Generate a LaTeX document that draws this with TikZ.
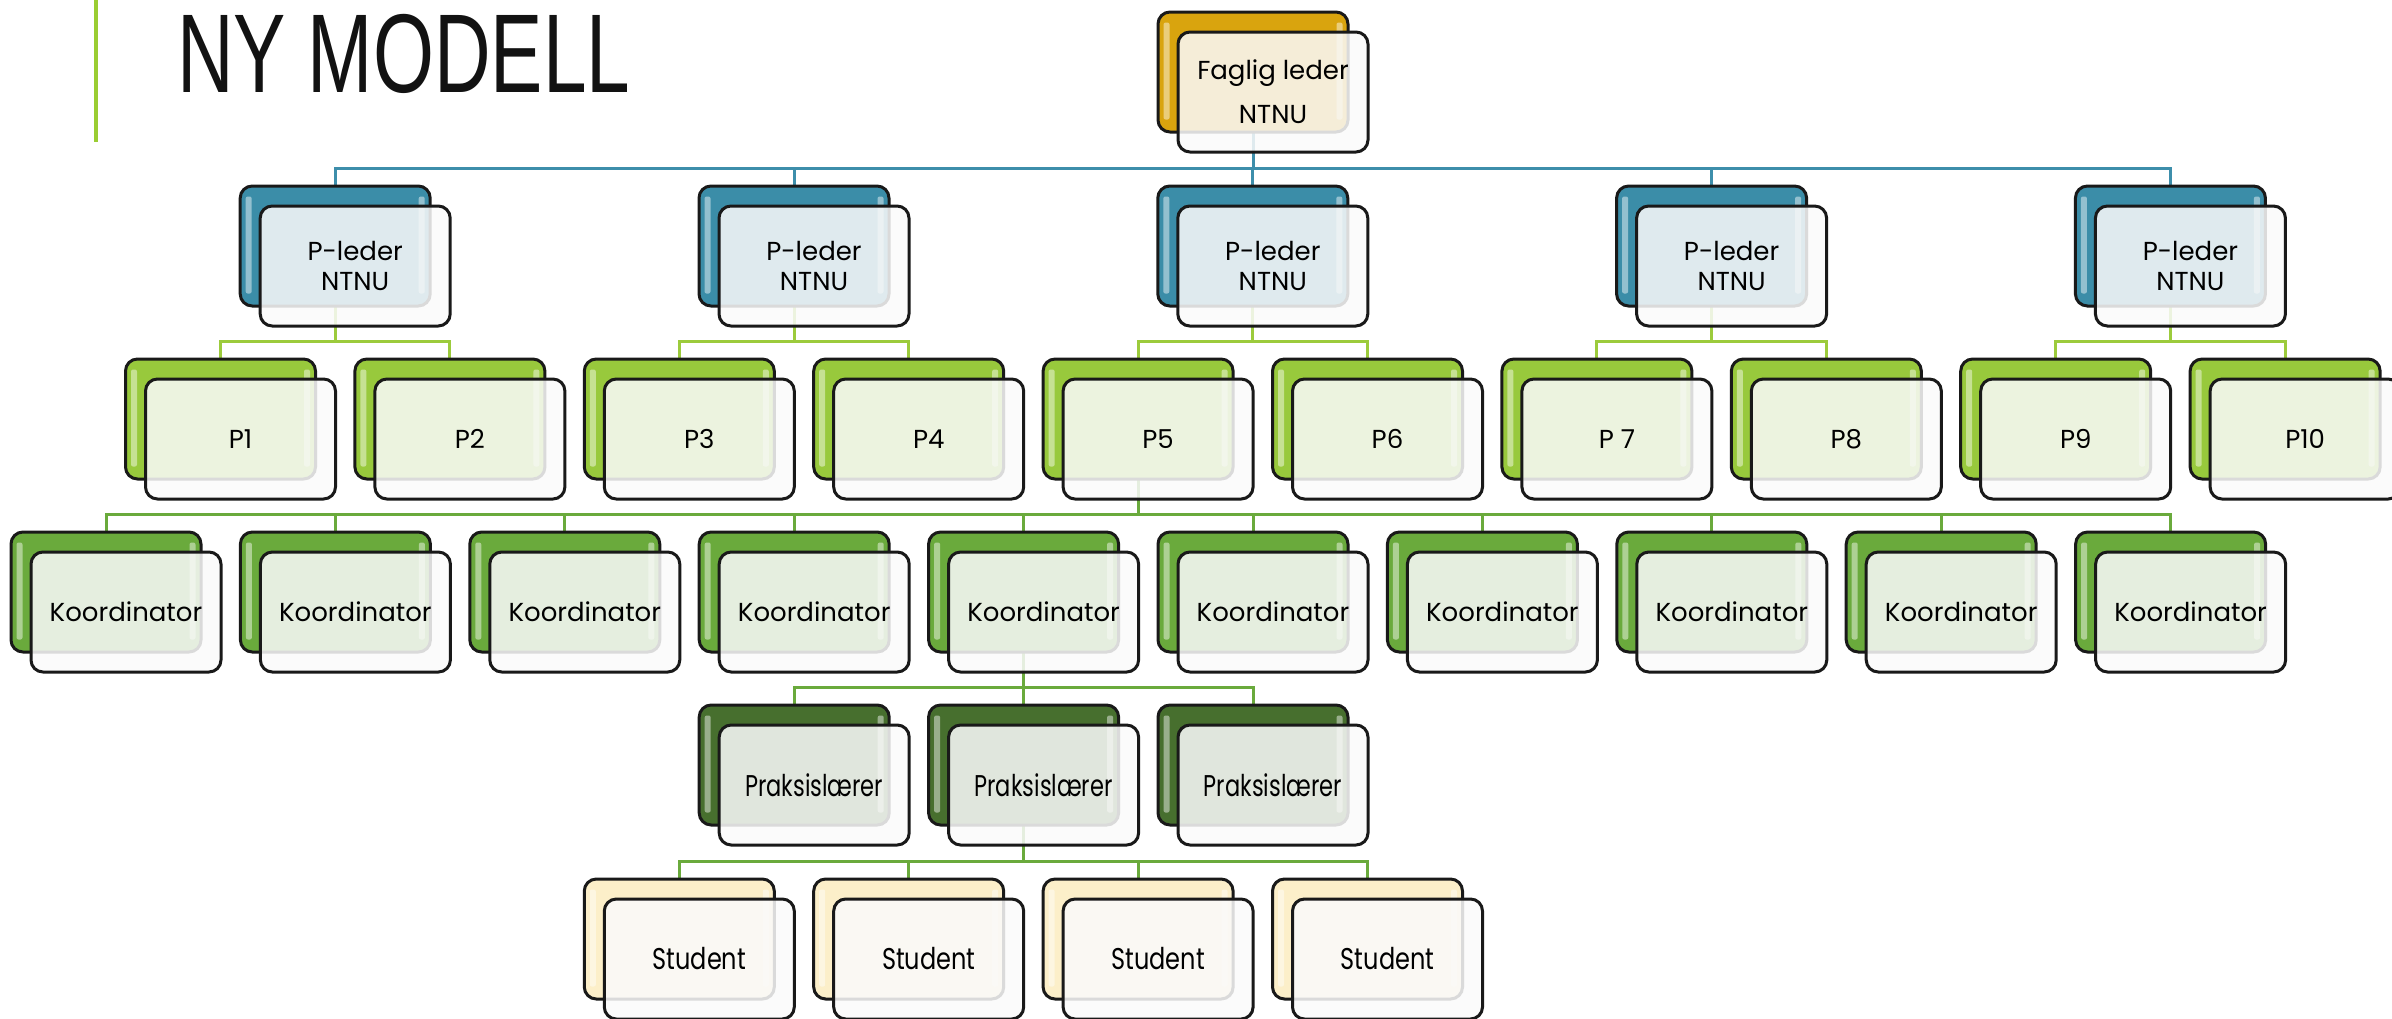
\documentclass[tikz,border=0pt]{standalone}
\usepackage{graphicx}
\usepackage{fontspec}
\setmainfont{Poppins}
\newfontfamily\titlefont{Liberation Sans}
\usetikzlibrary{backgrounds}
\definecolor{goldc}{HTML}{D9A40E}
\definecolor{tealc}{HTML}{3B8DA8}
\definecolor{pgreen}{HTML}{98C93C}
\definecolor{kgreen}{HTML}{6AAA3C}
\definecolor{dgreen}{HTML}{476F2E}
\definecolor{creamc}{HTML}{FCEFC9}
\definecolor{tealline}{HTML}{3D8EAB}
\definecolor{pline}{HTML}{9CCB3C}
\definecolor{kline}{HTML}{6AAA3C}
\definecolor{barc}{HTML}{9ACD32}
\tikzset{
  backbox/.style={draw=black!90, line width=3pt, rounded corners=12pt,
    minimum width=190pt, minimum height=120pt, inner sep=0pt},
  frontbox/.style={draw=black!90, line width=3pt, rounded corners=12pt,
    minimum width=190pt, minimum height=120pt, fill=gray!4, fill opacity=0.86,
    text opacity=1, align=center, inner sep=0pt, text=black,
    font=\fontsize{26}{30}\selectfont},
  hl/.style={white, opacity=0.45, rounded corners=2pt},
  conn/.style={line width=3pt},
}
\newcommand\obox[5]{%
  \node[backbox, fill=#4] (#1-b) at (#2,#3) {};
  \fill[hl] ([shift={(7pt,-12pt)}]#1-b.north west) rectangle ([shift={(13pt,14pt)}]#1-b.south west);
  \fill[hl] ([shift={(-13pt,-12pt)}]#1-b.north east) rectangle ([shift={(-7pt,14pt)}]#1-b.south east);
  \node[frontbox] (#1) at ([shift={(20pt,-20pt)}]#1-b.center) {#5};
}
\newcommand\condtext[2]{\scalebox{#1}[1]{\fontsize{30}{30}\selectfont #2}}
\begin{document}
\begin{tikzpicture}[x=1pt, y=-1pt]
\useasboundingbox (0,0) rectangle (2392,1018);
% title
\fill[barc] (94,0) rectangle (98,142);
\node[anchor=base west, inner sep=0pt, text=black!93] (title) at (177,92)
  {\scalebox{0.70}[1]{\titlefont\fontsize{112}{112}\selectfont NY MODELL}};
% level 0
\obox{fl}{1253}{72}{goldc}{Faglig leder\\[14pt]NTNU}
% level 1
\obox{pl1}{335.2}{246}{tealc}{P-leder\\NTNU}
\obox{pl2}{794.0}{246}{tealc}{P-leder\\NTNU}
\obox{pl3}{1252.8}{246}{tealc}{P-leder\\NTNU}
\obox{pl4}{1711.6}{246}{tealc}{P-leder\\NTNU}
\obox{pl5}{2170.4}{246}{tealc}{P-leder\\NTNU}
% level 2
\obox{p1}{220.5}{419}{pgreen}{P1}
\obox{p2}{449.9}{419}{pgreen}{P2}
\obox{p3}{679.3}{419}{pgreen}{P3}
\obox{p4}{908.7}{419}{pgreen}{P4}
\obox{p5}{1138.1}{419}{pgreen}{P5}
\obox{p6}{1367.5}{419}{pgreen}{P6}
\obox{p7}{1596.9}{419}{pgreen}{P 7}
\obox{p8}{1826.3}{419}{pgreen}{P8}
\obox{p9}{2055.7}{419}{pgreen}{P9}
\obox{p10}{2285.1}{419}{pgreen}{P10}
% level 3
\obox{k1}{106.0}{592}{kgreen}{Koordinator}
\obox{k2}{335.4}{592}{kgreen}{Koordinator}
\obox{k3}{564.8}{592}{kgreen}{Koordinator}
\obox{k4}{794.2}{592}{kgreen}{Koordinator}
\obox{k5}{1023.6}{592}{kgreen}{Koordinator}
\obox{k6}{1253.0}{592}{kgreen}{Koordinator}
\obox{k7}{1482.4}{592}{kgreen}{Koordinator}
\obox{k8}{1711.8}{592}{kgreen}{Koordinator}
\obox{k9}{1941.2}{592}{kgreen}{Koordinator}
\obox{k10}{2170.6}{592}{kgreen}{Koordinator}
% level 4
\obox{pr1}{794.2}{765}{dgreen}{\condtext{0.75}{Praksislærer}}
\obox{pr2}{1023.6}{765}{dgreen}{\condtext{0.75}{Praksislærer}}
\obox{pr3}{1253.0}{765}{dgreen}{\condtext{0.75}{Praksislærer}}
% level 5
\obox{s1}{679.3}{939}{creamc}{\condtext{0.8}{Student}}
\obox{s2}{908.7}{939}{creamc}{\condtext{0.8}{Student}}
\obox{s3}{1138.1}{939}{creamc}{\condtext{0.8}{Student}}
\obox{s4}{1367.5}{939}{creamc}{\condtext{0.8}{Student}}
% connectors
\begin{scope}[on background layer]
  \foreach \c in {pl1,pl2,pl3,pl4,pl5}
    \draw[conn, tealline] (fl-b.center) |- ([yshift=16pt]\c-b.north) -- (\c-b.center);
  \foreach \p/\a/\b in {pl1/p1/p2, pl2/p3/p4, pl3/p5/p6, pl4/p7/p8, pl5/p9/p10}{
    \draw[conn, pline] (\p-b.center) |- ([yshift=16pt]\a-b.north) -- (\a-b.center);
    \draw[conn, pline] (\p-b.center) |- ([yshift=16pt]\b-b.north) -- (\b-b.center);
  }
  \foreach \i in {1,...,10}
    \draw[conn, kline] (p5-b.center) |- ([yshift=16pt]k\i-b.north) -- (k\i-b.center);
  \foreach \i in {1,2,3}
    \draw[conn, kline] (k5-b.center) |- ([yshift=16pt]pr\i-b.north) -- (pr\i-b.center);
  \foreach \i in {1,...,4}
    \draw[conn, kline] (pr2-b.center) |- ([yshift=16pt]s\i-b.north) -- (s\i-b.center);
\end{scope}
\end{tikzpicture}
\end{document}
